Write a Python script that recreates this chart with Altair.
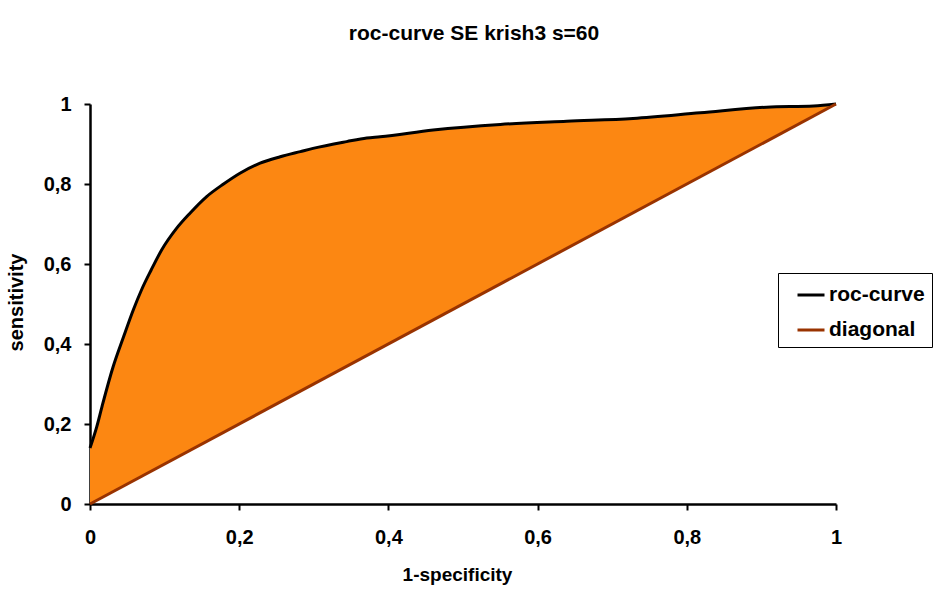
import altair as alt
import pandas as pd

# 1-specificity (false positive rate) and sensitivity of the ROC curve
fpr = [0.0, 0.009, 0.016, 0.031, 0.045, 0.058, 0.069, 0.082, 0.096, 0.116, 0.134,
       0.156, 0.179, 0.201, 0.228, 0.255, 0.282, 0.299, 0.344, 0.371, 0.389, 0.46,
       0.55, 0.639, 0.728, 0.818, 0.907, 0.97, 1.0]
tpr = [0.14, 0.193, 0.243, 0.343, 0.418, 0.485, 0.535, 0.585, 0.635, 0.689, 0.727,
       0.768, 0.80, 0.827, 0.852, 0.868, 0.881, 0.889, 0.906, 0.915, 0.918, 0.935,
       0.949, 0.957, 0.964, 0.978, 0.992, 0.995, 1.0]

# diagonal reference line
diag_x = [0.0, 1.0]
diag_y = [0.0, 1.0]

series_names = ["roc-curve", "diagonal"]
series_colors = ["#000000", "#993300"]
ticks = [0, 0.2, 0.4, 0.6, 0.8, 1]

FONT = "Liberation Sans"

area_df = pd.DataFrame({"fpr": fpr, "tpr": tpr})
lines_df = pd.concat([
    pd.DataFrame({"fpr": fpr, "tpr": tpr, "series": series_names[0]}),
    pd.DataFrame({"fpr": diag_x, "tpr": diag_y, "series": series_names[1]}),
])

label_expr = "replace(format(datum.value, '.1~f'), '.', ',')"

x_scale = alt.Scale(domain=[0, 1], nice=False, zero=False)
y_scale = alt.Scale(domain=[0, 1], nice=False, zero=False)

x_axis = alt.Axis(
    title="1-specificity", values=ticks, labelExpr=label_expr, grid=False,
    domainColor="black", domainWidth=2.5, tickColor="black", tickWidth=2, tickSize=6,
    labelFont=FONT, labelFontSize=20, labelFontWeight="bold", labelColor="black",
    labelBaseline="alphabetic", labelPadding=33, labelFlush=False,
    titleFont=FONT, titleFontSize=19, titleFontWeight="bold", titleColor="black",
    titleX=367, titleY=76, titleBaseline="alphabetic", titleAnchor="middle", titleAlign="center",
)
y_axis = alt.Axis(
    title="sensitivity", values=ticks, labelExpr=label_expr, grid=False,
    domainColor="black", domainWidth=2.5, tickColor="black", tickWidth=2, tickSize=6,
    labelFont=FONT, labelFontSize=20, labelFontWeight="bold", labelColor="black",
    labelPadding=13, labelFlush=False,
    titleFont=FONT, titleFontSize=20, titleFontWeight="bold", titleColor="black",
    titleX=-74, titleY=198, titleBaseline="middle", titleAngle=270, titleAlign="center",
)

area = alt.Chart(area_df).mark_area(color="#FC8712", interpolate="monotone", opacity=1).transform_calculate(
    diag="datum.fpr"
).encode(
    x=alt.X("fpr:Q", scale=x_scale, axis=x_axis),
    y=alt.Y("tpr:Q", scale=y_scale, axis=y_axis),
    y2="diag:Q",
)

lines = alt.Chart(lines_df).mark_line(interpolate="monotone", strokeWidth=3).encode(
    x=alt.X("fpr:Q", scale=x_scale),
    y=alt.Y("tpr:Q", scale=y_scale),
    color=alt.Color(
        "series:N",
        scale=alt.Scale(domain=series_names, range=series_colors),
        sort=series_names,
        legend=alt.Legend(
            title=None, orient="none", legendX=688, legendY=169,
            symbolType="stroke", symbolSize=729, symbolStrokeWidth=3,
            strokeColor="black", padding=7, symbolOffset=11,
            labelFont=FONT, labelFontSize=21, labelFontWeight="bold", labelColor="black",
            labelOffset=3, rowPadding=10,
        ),
    ),
    detail="series:N",
)

chart = alt.layer(area, lines).properties(
    width=746,
    height=400,
    title=alt.TitleParams(
        text="roc-curve SE krish3 s=60", font=FONT, fontSize=21, fontWeight="bold",
        color="black", anchor="middle", frame="group", baseline="alphabetic",
        offset=33, dx=11,
    ),
    autosize=alt.AutoSizeParams(type="none"),
    padding={"left": 90, "top": 104, "right": 110, "bottom": 89},
).configure(background="white", view=alt.ViewConfig(stroke=None))

chart.save("out.html", embed_options={"renderer": "svg", "actions": False})
